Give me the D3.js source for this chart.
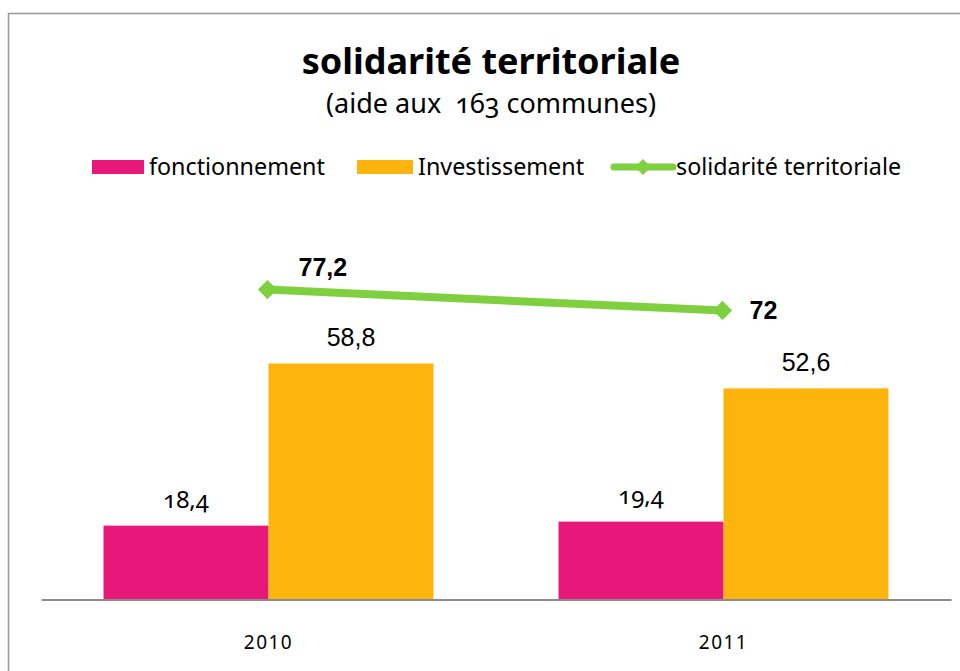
<!DOCTYPE html>
<html><head><meta charset="utf-8">
<script src="https://cdn.jsdelivr.net/npm/d3@7/dist/d3.min.js"></script>
<style>
body{margin:0;background:#fff;}
svg{display:block;}
.on{font-variant-numeric:oldstyle-nums;font-feature-settings:"onum" 1;}
</style>
</head><body>
<script>
const categories = ["2010", "2011"];
const fonctionnement = [18.4, 19.4];
const investissement = [58.8, 52.6];
const solidarite = [77.2, 72];
const seriesNames = ["fonctionnement", "Investissement", "solidarité territoriale"];
const fmt = v => String(v).replace(".", ",");

const W = 960, H = 671;
const svg = d3.select("body").append("svg").attr("width", W).attr("height", H);
const sans = "'Noto Sans', 'Open Sans', sans-serif";
const arial = "'Liberation Sans', Arial, sans-serif";

// border
svg.append("path").attr("d", `M8.5,${H} V13.5 H${W}`).attr("fill","none").attr("stroke","#999").attr("stroke-width",1.5);

// title
svg.append("text").attr("x", 491).attr("y", 74).attr("text-anchor","middle")
  .attr("font-family", sans).attr("font-weight","bold").attr("font-size", 36).attr("fill","#000")
  .text("solidarité territoriale");
svg.append("text").attr("x", 491).attr("y", 113).attr("text-anchor","middle").attr("class","on")
  .attr("font-family", sans).attr("font-size", 27).attr("fill","#000")
  .style("white-space","pre")
  .text("(aide aux  163 communes)");

// scales
const x = d3.scaleBand().domain(categories).range([41, 951]);
const inner = d3.scaleBand().domain(["f","i"]).range([0, x.bandwidth()]).paddingOuter(0.379);
const y = d3.scaleLinear().domain([0, 100]).range([599.5, 599.5 - 401.4]);

const colors = {f:"#E8177A", i:"#FDB50E", s:"#7ED03F"};

// bars
categories.forEach((c, k) => {
  [["f", fonctionnement[k]], ["i", investissement[k]]].forEach(([key, v]) => {
    svg.append("rect").attr("x", x(c) + inner(key)).attr("width", inner.bandwidth())
      .attr("y", y(v)).attr("height", y(0) - y(v)).attr("fill", colors[key]);
  });
});

// axis
const ax = svg.append("g").attr("transform", `translate(0,${y(0)})`)
  .call(d3.axisBottom(x).tickSize(0).tickPadding(36));
ax.select(".domain").attr("stroke","#8c8c8c").attr("stroke-width",2.2);
ax.selectAll("text").attr("font-family", sans).attr("font-size", 19).attr("letter-spacing", 1.5).attr("fill","#000");

// bar labels
categories.forEach((c, k) => {
  svg.append("text").attr("class","on").attr("x", x(c) + inner("f") + inner.bandwidth()/2).attr("y", y(fonctionnement[k]) - 18)
    .attr("text-anchor","middle").attr("font-family", sans).attr("font-size", 24).attr("fill","#000")
    .text(fmt(fonctionnement[k]));
  svg.append("text").attr("x", x(c) + inner("i") + inner.bandwidth()/2).attr("y", y(investissement[k]) - 17)
    .attr("text-anchor","middle").attr("font-family", arial).attr("font-size", 25).attr("fill","#000")
    .text(fmt(investissement[k]));
});

// line
const cx = c => x(c) + x.bandwidth()/2 - 1;
const line = d3.line().x((d,i) => cx(categories[i])).y(d => y(d));
svg.append("path").datum(solidarite).attr("d", line).attr("fill","none")
  .attr("stroke", colors.s).attr("stroke-width", 8);
solidarite.forEach((v, i) => {
  svg.append("path").attr("d", d3.symbol().type(d3.symbolSquare).size(185)())
    .attr("transform", `translate(${cx(categories[i])},${y(v)}) rotate(45)`).attr("fill", colors.s);
});
svg.append("text").attr("x", cx(categories[0]) + 31).attr("y", y(solidarite[0]) - 14)
  .attr("font-family", arial).attr("font-weight","bold").attr("font-size", 25).attr("fill","#000")
  .text(fmt(solidarite[0]));
svg.append("text").attr("x", cx(categories[1]) + 27).attr("y", y(solidarite[1]) + 9)
  .attr("font-family", arial).attr("font-weight","bold").attr("font-size", 25).attr("fill","#000")
  .text(fmt(solidarite[1]));

// legend
const lg = svg.append("g").attr("font-family", sans).attr("font-size", 23.3).attr("fill","#000");
const ly = 167;
lg.append("rect").attr("x", 92).attr("y", ly-7).attr("width", 52).attr("height", 14).attr("fill", colors.f);
lg.append("text").attr("x", 149).attr("y", ly+8).text(seriesNames[0]);
lg.append("rect").attr("x", 357).attr("y", ly-7).attr("width", 56).attr("height", 14).attr("fill", colors.i);
lg.append("text").attr("x", 418).attr("y", ly+8).text(seriesNames[1]);
lg.append("line").attr("x1", 614).attr("x2", 673).attr("y1", ly).attr("y2", ly).attr("stroke", colors.s).attr("stroke-width", 7).attr("stroke-linecap","round");
lg.append("path").attr("d", d3.symbol().type(d3.symbolSquare).size(130)()).attr("transform", `translate(643,${ly}) rotate(45)`).attr("fill", colors.s);
lg.append("text").attr("x", 676).attr("y", ly+8).text(seriesNames[2]);
</script>
</body></html>
